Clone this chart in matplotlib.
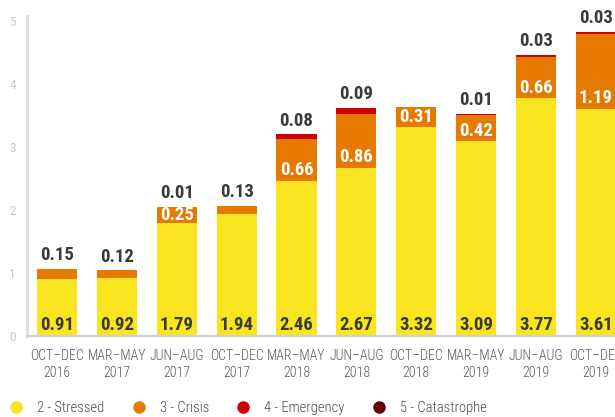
import matplotlib
matplotlib.use('Agg')
import matplotlib.pyplot as plt
from matplotlib.lines import Line2D
import numpy as np
import logging

logging.getLogger('matplotlib.font_manager').setLevel(logging.ERROR)
plt.rcParams['font.family'] = ['Roboto Condensed', 'Liberation Sans Narrow',
                               'Roboto', 'DejaVu Sans']

################################################
# Data

periods = ['OCT–DEC\n2016', 'MAR–MAY\n2017', 'JUN–AUG\n2017', 'OCT–DEC\n2017',
           'MAR–MAY\n2018', 'JUN–AUG\n2018', 'OCT–DEC\n2018', 'MAR–MAY\n2019',
           'JUN–AUG\n2019', 'OCT–DEC\n2019']
stressed = [0.91, 0.92, 1.79, 1.94, 2.46, 2.67, 3.32, 3.09, 3.77, 3.61]
crisis = [0.15, 0.12, 0.25, 0.13, 0.66, 0.86, 0.31, 0.42, 0.66, 1.19]
emergency = [0, 0, 0.01, 0, 0.08, 0.09, 0, 0.01, 0.03, 0.03]
catastrophe = [0, 0, 0, 0, 0, 0, 0, 0, 0, 0]

phases = ['2 - Stressed', '3 - Crisis', '4 - Emergency', '5 - Catastrophe']
colors = ['#F8E51F', '#E67A00', '#CC0000', '#650000']

################################################
# Drawing

fig = plt.figure(figsize=(6.15, 4.17), dpi=100)
ax = fig.add_axes([27 / 615, 81 / 417, 1 - 27 / 615, 336 / 417])

x = np.arange(len(periods))
width = 0.67
bottom = np.zeros(len(periods))
for vals, col in zip([stressed, crisis, emergency, catastrophe], colors):
    ax.bar(x, vals, width, bottom=bottom, color=col, edgecolor='none')
    bottom += np.array(vals)

dark = '#3a3a3a'
lab_size = 13.5
for i in range(len(periods)):
    # stressed value at the foot of the bar
    ax.text(x[i], 0.17, '{:.2f}'.format(stressed[i]), ha='center', va='center',
            fontsize=lab_size, fontweight='bold', color=dark)
    total = stressed[i] + crisis[i] + emergency[i]
    if emergency[i] > 0 or crisis[i] > 0.2:
        base = stressed[i]
        ax.text(x[i], base + min(crisis[i] / 2, 0.17), '{:.2f}'.format(crisis[i]),
                ha='center', va='center', fontsize=lab_size, fontweight='bold',
                color='white')
        if emergency[i] > 0:
            ax.annotate('{:.2f}'.format(emergency[i]), (x[i], total),
                        xytext=(0, 3.5), textcoords='offset points', ha='center',
                        va='bottom', fontsize=lab_size, fontweight='bold', color=dark)
    else:
        ax.annotate('{:.2f}'.format(crisis[i]), (x[i], total),
                    xytext=(0, 3.5), textcoords='offset points', ha='center',
                    va='bottom', fontsize=lab_size, fontweight='bold', color=dark)

ax.set_xlim(-0.5, 9.32)
ax.set_ylim(0, 336 / 63)
ax.set_yticks([0, 1, 2, 3, 4, 5])
ax.set_xticks(x)
ax.set_xticklabels(periods, fontsize=10, color='#5a5a5a', linespacing=1.3,
                   fontweight='light')
ax.tick_params(axis='y', length=0, labelsize=9.5, labelcolor='#c8c8c8', pad=8)
ax.tick_params(axis='x', length=0, pad=9)

for s in ['top', 'right']:
    ax.spines[s].set_visible(False)
ax.spines['left'].set_color('#dddddd')
ax.spines['left'].set_linewidth(2)
ax.spines['left'].set_bounds(0, 5.08)
ax.spines['bottom'].set_color('#d0d0d0')
ax.spines['bottom'].set_linewidth(1.5)

handles = [Line2D([], [], marker='o', linestyle='none', markersize=9,
                  markerfacecolor=c, markeredgecolor='none') for c in colors]
fig.legend(handles, phases, loc='center left', bbox_to_anchor=(8.7 / 615, 9 / 417),
           ncol=4, frameon=False, prop={'size': 10.5, 'weight': 'light'},
           labelcolor='#4a4a4a', borderpad=0, borderaxespad=0,
           handletextpad=0.94, columnspacing=1.85, handlelength=1.0)

fig.savefig('out.png', dpi=100)
